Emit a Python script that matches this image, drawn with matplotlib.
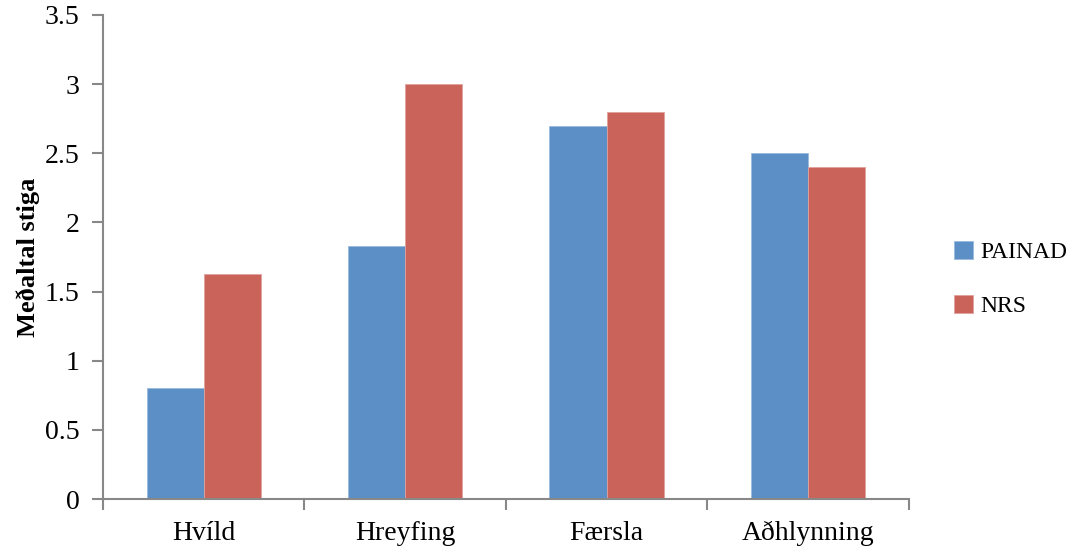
import matplotlib.pyplot as plt
import numpy as np

categories = ["Hvíld", "Hreyfing", "Færsla", "Aðhlynning"]
painad = [0.80, 1.83, 2.70, 2.50]
nrs = [1.63, 3.00, 2.80, 2.40]

plt.rcParams['font.family'] = ['Liberation Serif', 'DejaVu Serif']

fig = plt.figure(figsize=(10.73, 5.52), dpi=100)
ax = fig.add_axes([0.096, 0.096, 0.751, 0.877])

x = np.arange(len(categories))
w = 0.284
ax.bar(x - w / 2, painad, w, color='#5B8FC6', edgecolor='#9ab9dd', linewidth=0.6, label='PAINAD')
ax.bar(x + w / 2, nrs, w, color='#CA645B', edgecolor='#e0a19b', linewidth=0.6, label='NRS')

ax.set_xlim(-0.5, 3.5)
ax.set_ylim(0, 3.5)
ax.set_yticks(np.arange(0, 3.51, 0.5))
ax.set_yticklabels(['0', '0.5', '1', '1.5', '2', '2.5', '3', '3.5'])

# category labels centred, tick marks between groups
ax.set_xticks(x)
ax.set_xticklabels(categories)
ax.set_xticks(np.arange(-0.5, 3.6, 1), minor=True)
ax.tick_params(axis='x', which='major', length=0, pad=16, labelsize=20)
ax.tick_params(axis='x', which='minor', length=8, width=1.5, color='#888888')
ax.tick_params(axis='y', length=8, width=1.5, color='#888888', labelsize=20, pad=9)

for s in ['top', 'right']:
    ax.spines[s].set_visible(False)
for s in ['left', 'bottom']:
    ax.spines[s].set_color('#888888')
    ax.spines[s].set_linewidth(1.5)

ax.set_ylabel('Meðaltal stiga', fontsize=19, fontweight='bold', labelpad=3)

fig.legend(loc='center left', bbox_to_anchor=(0.889, 0.495), frameon=False,
           fontsize=17, handlelength=0.8, handleheight=0.8, handletextpad=0.3,
           labelspacing=1.35, borderpad=0, borderaxespad=0)

fig.savefig('out.png', dpi=100)
